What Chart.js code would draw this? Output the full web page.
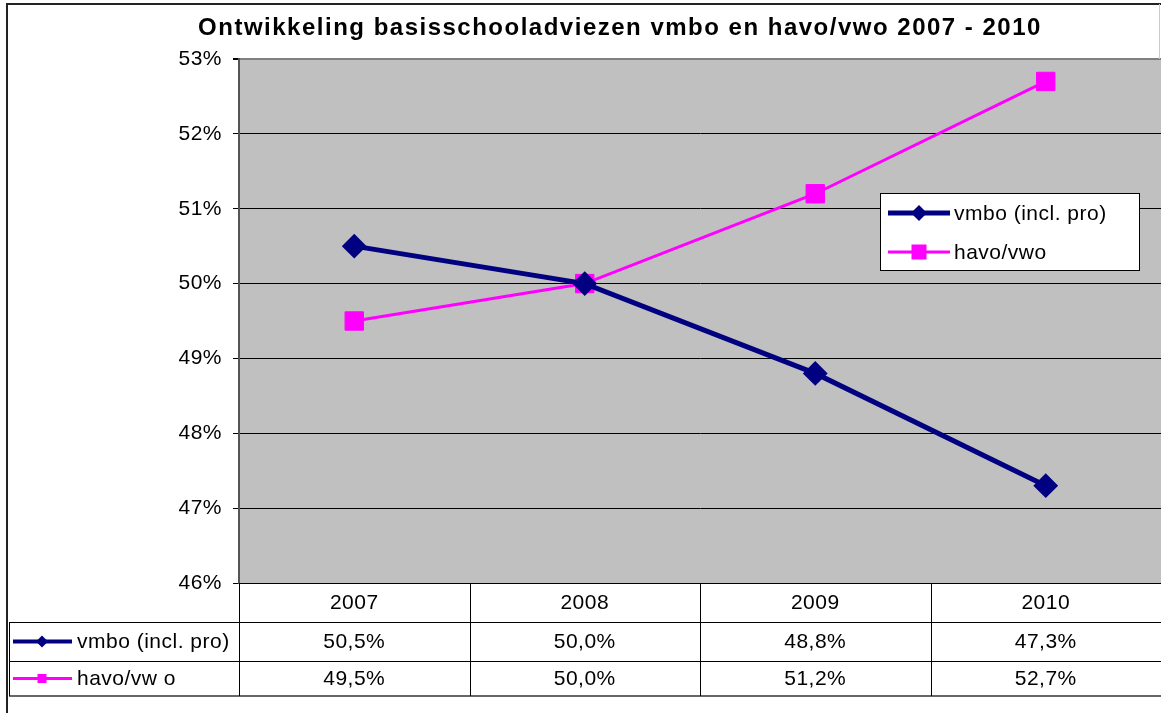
<!DOCTYPE html>
<html><head><meta charset="utf-8">
<script src="https://cdn.jsdelivr.net/npm/chart.js@4"></script>
<style>html,body{margin:0;padding:0;overflow:hidden;background:#fff}#wrap{width:1161px;height:713px;position:relative}</style>
</head><body><div id="wrap"><canvas id="c" width="1161" height="713"></canvas></div>
<script>
const categories = ['2007', '2008', '2009', '2010'];
const vmbo = [50.5, 50.0, 48.8, 47.3];
const havo = [49.5, 50.0, 51.2, 52.7];
const seriesNames = ['vmbo (incl. pro)', 'havo/vwo'];
const tableNames = ['vmbo (incl. pro)', 'havo/vw o'];
const yTicks = [46, 47, 48, 49, 50, 51, 52, 53];
const titleText = 'Ontwikkeling basisschooladviezen vmbo en havo/vwo 2007 - 2010';

const FONT = '"Liberation Sans", Arial, sans-serif';
const SPACING = '0.5px';

function drawMarker(ctx, style, x, y, r, color) {
  ctx.save();
  ctx.fillStyle = color;
  ctx.beginPath();
  if (style === 'rectRot') {
    ctx.moveTo(x, y - r); ctx.lineTo(x + r, y); ctx.lineTo(x, y + r); ctx.lineTo(x - r, y); ctx.closePath();
  } else {
    ctx.rect(x - r, y - r, 2 * r, 2 * r);
  }
  ctx.fill();
  ctx.restore();
}

const bgPlugin = {
  id: 'bg',
  beforeDraw(chart) {
    const { ctx, chartArea: a } = chart;
    ctx.letterSpacing = SPACING;
    ctx.save();
    ctx.fillStyle = '#fff';
    ctx.fillRect(0, 0, chart.width, chart.height);
    ctx.fillStyle = '#C0C0C0';
    ctx.fillRect(a.left, a.top, a.right - a.left, a.bottom - a.top);
    ctx.restore();
  }
};

const decoPlugin = {
  id: 'deco',
  afterDraw(chart) {
    const { ctx, chartArea: a } = chart;
    const xs = chart.scales.x;
    ctx.save();
    // outer border
    ctx.strokeStyle = '#222';
    ctx.lineWidth = 2;
    ctx.beginPath();
    ctx.moveTo(7, 720); ctx.lineTo(7, 4); ctx.lineTo(1161, 4);
    ctx.stroke();
    ctx.strokeStyle = '#ccc';
    ctx.lineWidth = 1;
    ctx.beginPath(); ctx.moveTo(1159.5, 4); ctx.lineTo(1159.5, a.top); ctx.stroke();

    // title
    ctx.fillStyle = '#000';
    ctx.font = 'bold 24px ' + FONT;
    ctx.letterSpacing = '1.5px';
    ctx.textAlign = 'center';
    ctx.textBaseline = 'middle';
    ctx.fillText(titleText, 620, 28);
    ctx.letterSpacing = SPACING;

    // legend
    const lg = { l: 880, t: 193, r: 1139, b: 270 };
    ctx.fillStyle = '#fff';
    ctx.fillRect(lg.l, lg.t, lg.r - lg.l, lg.b - lg.t);
    ctx.strokeStyle = '#000';
    ctx.lineWidth = 1;
    ctx.strokeRect(lg.l + 0.5, lg.t + 0.5, lg.r - lg.l, lg.b - lg.t);
    const legRows = [213, 252];
    chart.data.datasets.forEach((ds, i) => {
      const y = legRows[i];
      ctx.strokeStyle = ds.borderColor;
      ctx.lineWidth = i === 0 ? 5 : 3;
      ctx.beginPath(); ctx.moveTo(888, y); ctx.lineTo(950, y); ctx.stroke();
      drawMarker(ctx, ds.pointStyle, 919, y, i === 0 ? 8 : 7.5, ds.borderColor);
      ctx.fillStyle = '#000';
      ctx.font = '21px ' + FONT;
      ctx.textAlign = 'left';
      ctx.textBaseline = 'middle';
      ctx.fillText(seriesNames[i], 954, y + 1);
    });

    // data table
    const half = (xs.getPixelForValue(1) - xs.getPixelForValue(0)) / 2;
    const edges = categories.map((c, i) => xs.getPixelForValue(i) - half);
    edges.push(xs.getPixelForValue(categories.length - 1) + half);
    const rowY = [a.bottom, 622, 661, 696];
    ctx.strokeStyle = '#000';
    ctx.lineWidth = 1;
    [622, 661].forEach(y => {
      ctx.beginPath(); ctx.moveTo(9, y + 0.5); ctx.lineTo(edges[edges.length - 1], y + 0.5); ctx.stroke();
    });
    ctx.strokeStyle = '#666';
    ctx.lineWidth = 2;
    ctx.beginPath(); ctx.moveTo(9, 696); ctx.lineTo(edges[edges.length - 1], 696); ctx.stroke();
    ctx.strokeStyle = '#000';
    ctx.lineWidth = 1;
    edges.forEach(x => {
      ctx.beginPath(); ctx.moveTo(Math.round(x) + 0.5, a.bottom); ctx.lineTo(Math.round(x) + 0.5, 696); ctx.stroke();
    });
    ctx.beginPath(); ctx.moveTo(9.5, 622); ctx.lineTo(9.5, 696); ctx.stroke();

    ctx.font = '21px ' + FONT;
    ctx.textBaseline = 'middle';
    ctx.textAlign = 'center';
    ctx.fillStyle = '#000';
    categories.forEach((c, i) => ctx.fillText(c, xs.getPixelForValue(i), (rowY[0] + rowY[1]) / 2 + 1));
    chart.data.datasets.forEach((ds, r) => {
      const cy = (rowY[r + 1] + rowY[r + 2]) / 2 + 1;
      ds.data.forEach((v, i) => {
        ctx.textAlign = 'center';
        ctx.fillStyle = '#000';
        ctx.fillText(v.toFixed(1).replace('.', ',') + '%', xs.getPixelForValue(i), cy);
      });
      const ky = cy - 1;
      ctx.strokeStyle = ds.borderColor;
      ctx.lineWidth = r === 0 ? 4 : 3;
      ctx.beginPath(); ctx.moveTo(13, ky); ctx.lineTo(72, ky); ctx.stroke();
      drawMarker(ctx, ds.pointStyle, 42, ky, r === 0 ? 6 : 4.5, ds.borderColor);
      ctx.fillStyle = '#000';
      ctx.textAlign = 'left';
      ctx.fillText(tableNames[r], 77, cy);
    });
    ctx.restore();
  }
};

new Chart(document.getElementById('c'), {
  type: 'line',
  data: {
    labels: categories,
    datasets: [
      {
        label: seriesNames[0], data: vmbo,
        borderColor: '#000080', backgroundColor: '#000080',
        borderWidth: 5, pointStyle: 'rectRot', pointRadius: 11, pointBorderWidth: 2,
        pointHoverRadius: 11, tension: 0
      },
      {
        label: seriesNames[1], data: havo,
        borderColor: '#FF00FF', backgroundColor: '#FF00FF',
        borderWidth: 3, pointStyle: 'rect', pointRadius: 13, pointBorderWidth: 1,
        pointHoverRadius: 13, tension: 0
      }
    ]
  },
  options: {
    responsive: false,
    animation: false,
    devicePixelRatio: 1,
    layout: { autoPadding: false, padding: { left: 0, top: 59, right: -4, bottom: 130 } },
    plugins: { legend: { display: false }, title: { display: false }, tooltip: { enabled: false } },
    scales: {
      x: { type: 'category', display: false, offset: true },
      y: {
        min: 46, max: 53,
        afterFit(s) { s.width = 239; },
        afterBuildTicks(s) { s.ticks = yTicks.map(v => ({ value: v })); },
        ticks: { font: { family: FONT, size: 21 }, color: '#000', padding: 11, callback: v => v + '%' },
        grid: {
          color: c => (c.tick && c.tick.value === 53) ? '#808080' : '#000',
          lineWidth: c => (c.tick && c.tick.value === 53) ? 2 : 1,
          tickLength: 6, tickColor: '#000'
        },
        border: { color: '#555', width: 2 }
      }
    }
  },
  plugins: [bgPlugin, decoPlugin]
});
</script>
</body></html>
